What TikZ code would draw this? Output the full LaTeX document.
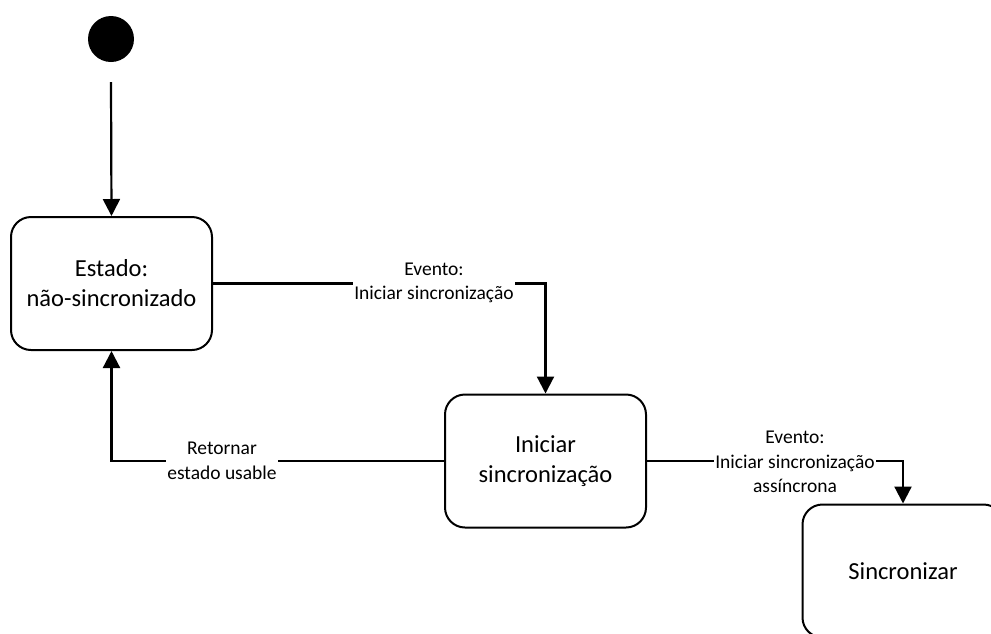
\documentclass[tikz,border=0pt]{standalone}
\usepackage{fontspec}
\setmainfont{Carlito}
\usetikzlibrary{arrows.meta}
\begin{document}
\begin{tikzpicture}[x=1pt,y=-1pt,
  statebox/.style={draw, line width=2pt, rounded corners=20pt, fill=white,
    minimum width=201pt, minimum height=133pt, align=center,
    font=\fontsize{24.5}{30}\selectfont},
  conn/.style={line width=2.2pt, -{Triangle[width=17pt,length=17pt]}},
  lbl/.style={fill=white, inner sep=1pt, align=center,
    font=\fontsize{19.5}{24.5}\selectfont}]
\useasboundingbox (0,0) rectangle (991,633);
\clip (0,0) rectangle (991,633);

% initial pseudo-state
\node[circle, fill=black, minimum size=46pt, inner sep=0pt] (init) at (111,39) {};
\coordinate (initout) at (111,82);

% states
\node[statebox] (s1) at (111.5,283.5) {Estado:\\não-sincronizado};
\node[statebox] (s2) at (545.5,461) {Iniciar\\sincronização};
\node[statebox] (s3) at (903,571) {Sincronizar};

% transitions
\draw[conn] (initout) -- (s1.north);
\draw[conn] (s1.east) -| (s2.north);
\draw[conn] (s2.west) -| (s1.south);
\draw[conn] (s2.east) -| (s3.north);

% transition labels
\node[lbl] (l1) at (434,283) {Evento:\\Iniciar sincronização};
\node[lbl] (l2) at (222,461) {Retornar\\estado usable};
\node[lbl] (l3) at (795,462) {Evento:\\Iniciar sincronização\\assíncrona};
\end{tikzpicture}
\end{document}
